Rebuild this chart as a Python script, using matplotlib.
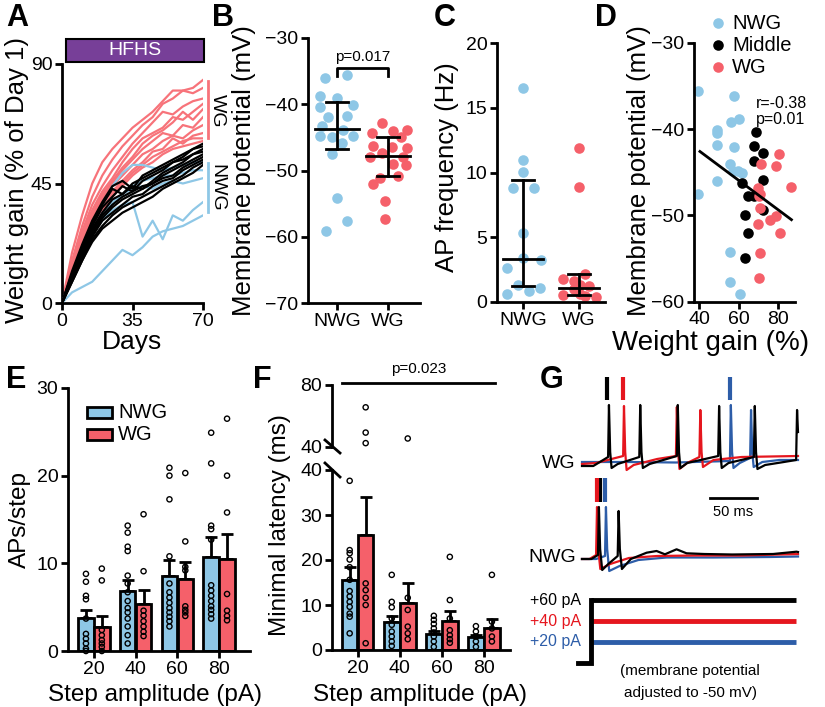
import numpy as np
import matplotlib
matplotlib.use("Agg")
import matplotlib.pyplot as plt
from matplotlib.patches import Rectangle
from matplotlib.lines import Line2D

plt.rcParams['font.family'] = ['Liberation Sans', 'DejaVu Sans']

# ------------------------------------------------------------------ DATA
# Panel A: weight gain (% of day 1) per mouse
days = [0, 5, 10, 15, 20, 25, 30, 35, 40, 45, 50, 55, 60, 65, 70]
wg_lines = [
    [0, 19, 33, 45, 53, 58, 62, 66, 69, 72, 76, 80, 80, 81, 84],
    [0, 16, 29, 40, 48, 54, 59, 63, 67, 70, 75, 77, 80, 79, 81],
    [0, 15, 27, 37, 44, 50, 55, 60, 64, 68, 72, 71, 74, 76, 77],
    [0, 14, 26, 35, 42, 47, 53, 58, 62, 64, 66, 70, 69, 72, 75],
    [0, 14, 25, 34, 41, 46, 51, 55, 60, 63, 65, 68, 72, 69, 73],
    [0, 13, 24, 33, 40, 45, 50, 54, 58, 61, 64, 63, 67, 66, 70],
    [0, 13, 23, 32, 39, 44, 48, 52, 56, 58, 61, 63, 62, 65, 67],
    [0, 12, 23, 31, 38, 42, 46, 50, 53, 57, 58, 62, 60, 63, 64],
    [0, 12, 22, 30, 36, 41, 45, 49, 52, 55, 57, 59, 61, 62, 62],
    [0, 11, 21, 29, 35, 40, 44, 48, 51, 53, 56, 58, 59, 60, 61],
]
middle_lines = [
    [0, 12, 22, 31, 38, 44, 46, 43, 48, 50, 52, 54, 56, 58, 60],
    [0, 11, 21, 30, 37, 43, 41, 45, 47, 49, 51, 53, 55, 58, 59],
    [0, 11, 20, 29, 36, 40, 44, 42, 46, 48, 50, 53, 54, 56, 58],
    [0, 10, 19, 28, 34, 39, 41, 44, 43, 46, 49, 51, 53, 56, 57],
    [0, 10, 19, 27, 33, 37, 40, 42, 44, 45, 48, 50, 52, 54, 56],
    [0, 9, 18, 26, 32, 36, 39, 41, 43, 45, 47, 48, 51, 53, 55],
    [0, 9, 17, 25, 31, 34, 37, 40, 41, 44, 46, 47, 50, 52, 54],
    [0, 8, 16, 24, 29, 33, 36, 38, 40, 42, 44, 46, 48, 51, 53],
    [0, 8, 16, 23, 28, 31, 34, 36, 38, 40, 43, 45, 47, 49, 52],
]
nwg_lines = [
    [0, 4, 6, 8, 12, 16, 20, 18, 21, 25, 27, 28, 29, 31, 33],
    [0, 10, 19, 26, 31, 35, 37, 38, 25, 31, 24, 33, 31, 35, 38],
    [0, 10, 19, 27, 33, 38, 41, 43, 44, 43, 45, 46, 45, 46, 47],
    [0, 11, 21, 30, 37, 44, 49, 52, 52, 51, 50, 51, 52, 53, 53],
    [0, 10, 20, 28, 34, 38, 41, 44, 46, 47, 48, 48, 49, 50, 50],
]

# Panel B: membrane potential (mV)
groups = ['NWG', 'WG']
vm_nwg = [-36.1, -35.6, -38.8, -39.1, -40.4, -40.1, -41.9, -41.8, -43.3,
          -43.9, -44.8, -44.8, -44.9, -45.9, -47.5, -54.2, -57.6, -59.1]
vm_nwg_jit = [-0.23, 0.19, -0.33, 0.0, -0.33, 0.32, -0.17, 0.19, -0.3,
              0.12, -0.33, 0.32, -0.1, 0.09, -0.1, 0.0, 0.19, -0.22]
vm_wg = [-42.9, -44.4, -44.1, -43.9, -45.0, -46.3, -46.5, -46.6, -47.3,
         -47.9, -48.0, -49.0, -50.8, -51.1, -52.1, -54.6, -57.3, -49.2]
vm_wg_jit = [-0.12, -0.32, 0.1, 0.37, 0.25, -0.3, 0.08, 0.38, -0.12,
             0.3, -0.35, 0.1, 0.2, -0.15, -0.3, -0.05, -0.05, 0.35]
vm_stats = [[-46.8, -43.8, -39.6], [-50.9, -47.8, -44.9]]   # q1, median, q3

# Panel C: AP frequency (Hz)
apf_nwg = [16.5, 11.0, 10.06, 8.78, 8.78, 5.3, 3.4, 2.6, 3.24, 1.3, 1.1, 0.85, 0.6]
apf_nwg_jit = [0.0, 0.0, 0.0, -0.17, 0.2, 0.0, 0.0, -0.28, 0.32, -0.08, 0.3, 0.11, -0.28]
apf_wg = [11.9, 8.9, 1.8, 2.2, 1.6, 1.3, 1.2, 0.55, 0.6, 0.5, 0.4, 1.0]
apf_wg_jit = [0.0, 0.0, -0.29, 0.1, -0.1, 0.02, 0.18, -0.29, 0.02, 0.1, 0.3, -0.1]
apf_stats = [[1.2, 3.3, 9.4], [0.55, 1.1, 2.2]]

# Panel D: weight gain (%) vs membrane potential (mV)
d_nwg_x = [39.7, 57.6, 60.3, 56.0, 48.9, 48.9, 48.9, 57.6, 55.6, 57.3, 59.8, 61.5, 48.9, 39.7, 55.6, 55.6, 60.7]
d_nwg_y = [-35.6, -36.2, -38.8, -39.2, -40.1, -40.5, -41.9, -42.1, -44.0, -44.9, -44.9, -45.1, -46.0, -47.5, -54.2, -57.7, -59.1]
d_mid_x = [68.6, 67.7, 72.4, 67.7, 61.5, 72.4, 64.9, 67.7, 72.4, 63.2, 64.9, 63.2]
d_mid_y = [-40.3, -42.0, -42.8, -43.7, -46.2, -45.9, -47.8, -47.8, -49.4, -50.0, -52.1, -54.9]
d_wg_x = [80.5, 71.1, 78.8, 86.7, 69.9, 70.8, 70.5, 70.8, 69.9, 75.8, 79.1, 80.8, 70.8, 70.5]
d_wg_y = [-42.9, -44.1, -44.3, -46.7, -46.8, -47.5, -47.8, -49.1, -51.0, -50.5, -50.1, -52.1, -54.4, -57.2]
fit_x = [40.5, 86.7]
fit_y = [-42.6, -50.5]

# Panel E: APs per step
steps = ['20', '40', '60', '80']
e_nwg_mean = [3.8, 6.8, 8.6, 10.7]
e_nwg_top = [4.7, 8.1, 10.4, 13.0]
e_wg_mean = [2.7, 5.4, 8.25, 10.5]
e_wg_top = [4.0, 7.0, 10.2, 13.4]
e_nwg_pts = [[8.8, 7.9, 6.3, 5.9, 3.7, 1.95, 1.4, 0.86, 0.27, 0.0],
             [14.3, 13.5, 11.9, 11.4, 8.6, 7.7, 6.7, 5.7, 4.9, 4.4, 3.7, 2.8, 1.8, 0.86],
             [20.9, 20.0, 17.3, 10.8, 7.7, 6.7, 6.1, 5.5, 4.9, 4.4, 3.9, 3.4, 2.8],
             [24.9, 21.4, 14.3, 13.9, 12.7, 7.5, 6.9, 6.3, 5.7, 5.1, 4.7, 4.2, 3.7]]
e_wg_pts = [[9.4, 8.05, 2.4, 1.8, 1.25, 0.86, 0.47, 0.0],
            [15.6, 9.1, 4.6, 4.05, 3.4, 2.8, 2.2, 1.7],
            [20.3, 12.5, 9.6, 9.2, 5.1, 4.7, 4.4, 4.0],
            [26.5, 20.0, 15.8, 6.5, 4.6, 4.0, 3.5]]

# Panel F: minimal latency (ms)
f_nwg_mean = [15.6, 6.3, 3.5, 3.0]
f_nwg_top = [18.4, 7.6, 4.3, 3.3]
f_wg_mean = [25.6, 10.4, 6.4, 5.0]
f_wg_top = [33.9, 15.0, 8.7, 6.8]
f_nwg_pts = [[37.6, 22.2, 21.5, 20.1, 18.4, 15.6, 13.1, 11.9, 10.7, 9.6, 8.1, 7.4, 3.7],
             [16.7, 10.7, 9.5, 7.0, 5.6, 4.1, 3.0, 1.9, 0.9],
             [7.6, 6.7, 5.8, 4.8, 3.9, 3.0, 1.9, 0.7],
             [5.3, 4.1, 3.0, 1.9, 0.7]]
f_wg_pts = [[65.6, 49.3, 42.5, 14.8, 13.3, 11.6, 10.0, 1.5],
            [45.5, 11.6, 8.9, 5.2, 3.7, 2.4],
            [20.7, 11.1, 7.0, 4.4, 3.3, 2.4, 1.6],
            [16.7, 6.3, 4.8, 3.0, 1.9]]

# Panel G: example traces (time ms, Vm mV)
wg_black_t = [0, 12, 27.8, 28.7, 30, 31.5, 38, 61, 62, 63.3, 64.8, 72, 101, 102, 103.3, 104.8, 112,
              145, 146, 147.3, 148.8, 156, 183, 184, 185.3, 186.8, 195, 215, 228, 229, 230]
wg_black_v = [-54, -54, -45, 7, -40, -56, -52, -45, 7, -40, -56, -52, -44, 7, -40, -56, -51,
              -44, 6, -40, -56, -51, -45, 6, -40, -57, -53, -50, -48, 2, -20]
wg_red_t = [0, 15, 43.8, 44.7, 46, 47.5, 55, 80, 100, 101, 102.3, 103.8, 112, 125, 126, 127.3,
            128.8, 140, 170, 230]
wg_red_v = [-52, -51, -44, 6, -40, -58, -53, -47, -44, 5, -40, -57, -51, -45, 2, -40,
            -55, -48, -45, -44]
wg_blue_t = [0, 50, 100, 157.5, 158.5, 159.8, 161.3, 168, 179, 180, 181.3, 182.8, 192, 210, 230]
wg_blue_v = [-50, -50, -50.5, -49, 7, -40, -56, -51, -46, 2, -40, -55, -50, -48, -48]
wg_marks = [27.0, 43.6, 157.5]          # first-spike latency markers (black, red, blue)

nwg_black_t = [0, 10, 17, 18, 19.3, 21.5, 28, 38, 39, 40.3, 42.5, 52, 68.8, 79.4, 88.3, 100.7,
               111.3, 130, 160, 203.5, 228.4, 230]
nwg_black_v = [-50, -50, -46, 2, -40, -61, -55, -47, -2, -40, -60, -50, -43.7, -42, -45.3, -40.3,
               -44.3, -45, -45.5, -45, -42.7, -43]
nwg_red_t = [0, 8, 15, 16, 17.3, 19.5, 30, 50, 80, 120, 170, 230]
nwg_red_v = [-50, -50, -46, 2, -40, -60, -55, -49, -47, -46.5, -46.5, -45]
nwg_blue_t = [0, 15, 24.5, 25.5, 26.8, 29, 40, 60, 90, 140, 200, 230]
nwg_blue_v = [-50, -50, -47, 2, -40, -62, -57, -51, -48.5, -48.5, -48, -47.5]
nwg_marks = [19.0, 16.0, 24.0]          # black, red, blue

step_levels = [60, 40, 20]              # pA
step_labels = ['+60 pA', '+40 pA', '+20 pA']
step_onset = 9.2                        # ms

# ------------------------------------------------------------------ STYLE
BLUE = '#8ec7e6'
RED = '#f5606a'
RED_L = '#f7737a'
PURPLE = '#773f98'
G_RED = '#e5161e'
G_BLUE = '#2d5da8'
TR_COLORS = ['k', G_RED, G_BLUE]

W, H = 825, 707
fig = plt.figure(figsize=(W / 100, H / 100), dpi=100)


def add_ax(l, t, r, b):
    return fig.add_axes([l / W, 1 - b / H, (r - l) / W, (b - t) / H])


def ftext(x, y, s, **kw):
    return fig.text(x / W, 1 - y / H, s, **kw)


def style(ax, size=14):
    for s in ['top', 'right']:
        ax.spines[s].set_visible(False)
    for s in ['left', 'bottom']:
        ax.spines[s].set_linewidth(2)
    ax.tick_params(width=2, length=5, labelsize=size, pad=2)


LBL = 18.5
# ------------------------------------------------------------------ A
axA = add_ax(62, 64, 203, 303)
style(axA)
for v in wg_lines:
    axA.plot(days, v, color=RED_L, lw=1.6, zorder=2)
for v in nwg_lines:
    axA.plot(days, v, color=BLUE, lw=1.6, zorder=3)
for v in middle_lines:
    axA.plot(days, v, color='k', lw=1.6, zorder=4)
axA.set_xlim(0, 70)
axA.set_ylim(0, 90)
axA.set_xticks([0, 35, 70])
axA.set_yticks([0, 45, 90])
axA.add_patch(Rectangle((2, 90.6), 68.5, 9, facecolor=PURPLE, edgecolor='k', lw=1.5, clip_on=False))
axA.text(36, 95.1, 'HFHS', color='white', ha='center', va='center', fontsize=14)
axA.plot([72.3, 72.3], [62, 83.6], color=RED_L, lw=2, clip_on=False)
axA.text(77, 72.5, 'WG', rotation=270, ha='center', va='center', fontsize=14)
axA.plot([72.3, 72.3], [34.4, 52.6], color=BLUE, lw=2, clip_on=False)
axA.text(77, 43.3, 'NWG', rotation=270, ha='center', va='center', fontsize=14)
ftext(17.5, 180, 'Weight gain (% of Day 1)', rotation=90, ha='center', va='center', fontsize=LBL)
ftext(132, 349, 'Days', ha='center', va='baseline', fontsize=19)

# ------------------------------------------------------------------ B
axB = add_ax(308, 38, 420, 303)
style(axB)
axB.scatter(np.array(vm_nwg_jit), vm_nwg, s=58, color=BLUE, linewidths=0, zorder=2, clip_on=False)
axB.scatter(1 + np.array(vm_wg_jit), vm_wg, s=58, color=RED, linewidths=0, zorder=2, clip_on=False)
for i, (q1, med, q3) in enumerate(vm_stats):
    axB.plot([i - 0.43, i + 0.43], [med, med], 'k', lw=2, zorder=3)
    axB.plot([i, i], [q1, q3], 'k', lw=2, zorder=3)
    for q in (q1, q3):
        axB.plot([i - 0.22, i + 0.22], [q, q], 'k', lw=2, zorder=3)
axB.plot([0, 0, 1, 1], [-35.7, -34.6, -34.6, -35.7], 'k', lw=2, clip_on=False)
axB.text(0.5, -33.4, 'p=0.017', ha='center', va='baseline', fontsize=11)
axB.set_xlim(-0.57, 1.63)
axB.set_ylim(-70, -30)
axB.set_xticks([0, 1])
axB.set_xticklabels(groups)
axB.set_yticks([-70, -60, -50, -40, -30])
ftext(244, 171, 'Membrane potential (mV)', rotation=90, ha='center', va='center', fontsize=LBL)

# ------------------------------------------------------------------ C
axC = add_ax(497, 43, 605, 302)
style(axC)
axC.scatter(np.array(apf_nwg_jit), apf_nwg, s=58, color=BLUE, linewidths=0, zorder=2, clip_on=False)
axC.scatter(1 + np.array(apf_wg_jit), apf_wg, s=58, color=RED, linewidths=0, zorder=2, clip_on=False)
for i, (q1, med, q3) in enumerate(apf_stats):
    axC.plot([i - 0.35, i + 0.35], [med, med], 'k', lw=2, zorder=3)
    axC.plot([i, i], [q1, q3], 'k', lw=2, zorder=3)
    for q in (q1, q3):
        axC.plot([i - 0.2, i + 0.2], [q, q], 'k', lw=2, zorder=3)
axC.set_xlim(-0.46, 1.46)
axC.set_ylim(0, 20)
axC.set_xticks([0, 1])
axC.set_xticklabels(groups)
axC.set_yticks([0, 5, 10, 15, 20])
ftext(447, 167, 'AP frequency (Hz)', rotation=90, ha='center', va='center', fontsize=LBL)

# ------------------------------------------------------------------ D
axD = add_ax(694, 42.7, 795, 301.7)
style(axD)
axD.scatter(d_nwg_x, d_nwg_y, s=58, color=BLUE, linewidths=0, zorder=2, clip_on=False)
axD.scatter(d_mid_x, d_mid_y, s=58, color='k', linewidths=0, zorder=2, clip_on=False)
axD.scatter(d_wg_x, d_wg_y, s=58, color=RED, linewidths=0, zorder=2, clip_on=False)
axD.plot(fit_x, fit_y, 'k', lw=2, zorder=3)
axD.set_xlim(37.5, 88.5)
axD.set_ylim(-60, -30)
axD.set_xticks([40, 60, 80])
axD.set_yticks([-60, -50, -40, -30])
axD.text(68.7, -37.0, 'r=-0.38', ha='left', va='center', fontsize=11.5)
axD.text(68.7, -38.9, 'p=0.01', ha='left', va='center', fontsize=11.5)
for yy, c, lab in zip([1.076, 0.991, 0.906], [BLUE, 'k', RED], ['NWG', 'Middle', 'WG']):
    axD.scatter([0.238], [yy], s=58, color=c, linewidths=0, transform=axD.transAxes, clip_on=False)
    axD.text(0.376, yy, lab, transform=axD.transAxes, ha='left', va='center', fontsize=14.5)
ftext(639, 171, 'Membrane potential (mV)', rotation=90, ha='center', va='center', fontsize=LBL)
ftext(711, 350, 'Weight gain (%)', ha='center', va='baseline', fontsize=20)

# ------------------------------------------------------------------ E
x = np.arange(4)
off, bw = 0.19, 0.37
axE = add_ax(68, 388, 250, 651)
style(axE)
axE.bar(x - off, e_nwg_mean, bw, color=BLUE, edgecolor='k', lw=2, zorder=2)
axE.bar(x + off, e_wg_mean, bw, color=RED, edgecolor='k', lw=2, zorder=2)
for xs, m, t in [(x - off, e_nwg_mean, e_nwg_top), (x + off, e_wg_mean, e_wg_top)]:
    axE.errorbar(xs, m, yerr=[np.zeros(4), np.array(t) - np.array(m)], fmt='none', ecolor='k',
                 elinewidth=2, capsize=4.5, capthick=2, zorder=1)
for i in range(4):
    axE.scatter([i - off] * len(e_nwg_pts[i]), e_nwg_pts[i], s=14, facecolors='none',
                edgecolors='k', linewidths=1, zorder=4, clip_on=False)
    axE.scatter([i + off] * len(e_wg_pts[i]), e_wg_pts[i], s=14, facecolors='none',
                edgecolors='k', linewidths=1, zorder=4, clip_on=False)
axE.set_xlim(-0.62, 3.74)
axE.set_ylim(0, 30)
axE.set_xticks(x)
axE.set_xticklabels(steps)
axE.set_yticks([0, 10, 20, 30])
for (y0, c, lab, ty) in [(0.885, BLUE, 'NWG', 0.906), (0.802, RED, 'WG', 0.824)]:
    axE.add_patch(Rectangle((0.104, y0), 0.137, 0.044, transform=axE.transAxes, facecolor=c,
                            edgecolor='k', lw=2, clip_on=False))
    axE.text(0.276, ty, lab, transform=axE.transAxes, ha='left', va='center', fontsize=14.5)
ftext(20, 519, 'APs/step', rotation=90, ha='center', va='center', fontsize=17.5)
ftext(155, 701, 'Step amplitude (pA)', ha='center', va='baseline', fontsize=17.5)

# ------------------------------------------------------------------ F
axFb = add_ax(332, 470, 510, 650)
axFt = add_ax(332, 385, 510, 447)
style(axFb)
style(axFt)
axFt.spines['bottom'].set_visible(False)
axFt.set_xticks([])
axFb.bar(x - off, f_nwg_mean, bw, color=BLUE, edgecolor='k', lw=2, zorder=2)
axFb.bar(x + off, f_wg_mean, bw, color=RED, edgecolor='k', lw=2, zorder=2)
for xs, m, t in [(x - off, f_nwg_mean, f_nwg_top), (x + off, f_wg_mean, f_wg_top)]:
    axFb.errorbar(xs, m, yerr=[np.zeros(4), np.array(t) - np.array(m)], fmt='none', ecolor='k',
                  elinewidth=2, capsize=4.5, capthick=2, zorder=1)
for i in range(4):
    for xc, pts in [(i - off, f_nwg_pts[i]), (i + off, f_wg_pts[i])]:
        lo = [p for p in pts if p <= 40]
        hi = [p for p in pts if p > 40]
        axFb.scatter([xc] * len(lo), lo, s=14, facecolors='none', edgecolors='k', linewidths=1,
                     zorder=4, clip_on=False)
        if hi:
            axFt.scatter([xc] * len(hi), hi, s=14, facecolors='none', edgecolors='k',
                         linewidths=1, zorder=4, clip_on=False)
for a in (axFb, axFt):
    a.set_xlim(-0.61, 3.62)
axFb.set_ylim(0, 40)
axFt.set_ylim(40, 80)
axFb.set_xticks(x)
axFb.set_xticklabels(steps)
axFb.set_yticks([0, 10, 20, 30, 40])
axFt.set_yticks([40, 80])
axFt.plot([-0.37, 3.26], [81.5, 81.5], 'k', lw=2, clip_on=False)
axFt.text(1.445, 87.5, 'p=0.023', ha='center', va='baseline', fontsize=11)
for (x1, y1, x2, y2) in [(325, 440, 340, 453), (325, 463, 340, 477)]:
    fig.add_artist(Line2D([x1 / W, x2 / W], [1 - y1 / H, 1 - y2 / H], color='k', lw=2))
ftext(280, 525, 'Minimal latency (ms)', rotation=90, ha='center', va='center', fontsize=17.5)
ftext(420, 701, 'Step amplitude (pA)', ha='center', va='baseline', fontsize=17.5)

# ------------------------------------------------------------------ G
axGw = add_ax(582, 372, 798, 477)
axGw.set_xlim(0, 230)
axGw.set_ylim(-65, 40)
axGw.axis('off')
for tt, vv, c in [(wg_blue_t, wg_blue_v, G_BLUE), (wg_red_t, wg_red_v, G_RED),
                  (wg_black_t, wg_black_v, 'k')]:
    axGw.plot(tt, vv, color=c, lw=1.6, clip_on=False)
for tm, c in zip(wg_marks, TR_COLORS):
    axGw.plot([tm, tm], [12, 35], color=c, lw=3, solid_capstyle='butt', clip_on=False)

axGn = add_ax(582, 474, 798, 579)
axGn.set_xlim(0, 230)
axGn.set_ylim(-70, 35)
axGn.axis('off')
for tt, vv, c in [(nwg_blue_t, nwg_blue_v, G_BLUE), (nwg_red_t, nwg_red_v, G_RED),
                  (nwg_black_t, nwg_black_v, 'k')]:
    axGn.plot(tt, vv, color=c, lw=1.6, clip_on=False)
for tm, c in zip(nwg_marks, TR_COLORS):
    axGn.plot([tm, tm], [7, 31], color=c, lw=3, solid_capstyle='butt', clip_on=False)
axGn.plot([136, 186], [11, 11], 'k', lw=2)
axGn.text(161, -3, '50 ms', ha='center', va='center', fontsize=10.5)

axGi = add_ax(582, 595, 798, 668)
axGi.set_xlim(0, 230)
axGi.set_ylim(-4.8, 64.8)
axGi.axis('off')
for lev, c in zip(step_levels[::-1], TR_COLORS[::-1]):
    axGi.plot([step_onset, 228], [lev, lev], color=c, lw=3.5, solid_capstyle='butt')
for lev, c, lab in zip(step_levels, TR_COLORS, step_labels):
    axGi.text(-1.2, lev, lab, color=c, ha='right', va='center', fontsize=11.5)
axGi.plot([-4.3, step_onset, step_onset], [0, 0, step_levels[0]], color='k', lw=3.5,
          solid_joinstyle='miter', clip_on=False)
ftext(576, 464, 'WG', ha='right', va='center', fontsize=14)
ftext(576, 557, 'NWG', ha='right', va='center', fontsize=14)
ftext(690, 671, '(membrane potential', ha='center', va='center', fontsize=11)
ftext(690, 693, 'adjusted to -50 mV)', ha='center', va='center', fontsize=11)

# ------------------------------------------------------------------ panel letters
for lab, (px, py) in {'A': (6, 3), 'B': (212, 3), 'C': (434, 3), 'D': (595, 3),
                      'E': (6, 365), 'F': (253, 365), 'G': (540, 365)}.items():
    ftext(px, py, lab, ha='left', va='top', fontsize=22, fontweight='bold')

fig.savefig('out.png', dpi=100)
